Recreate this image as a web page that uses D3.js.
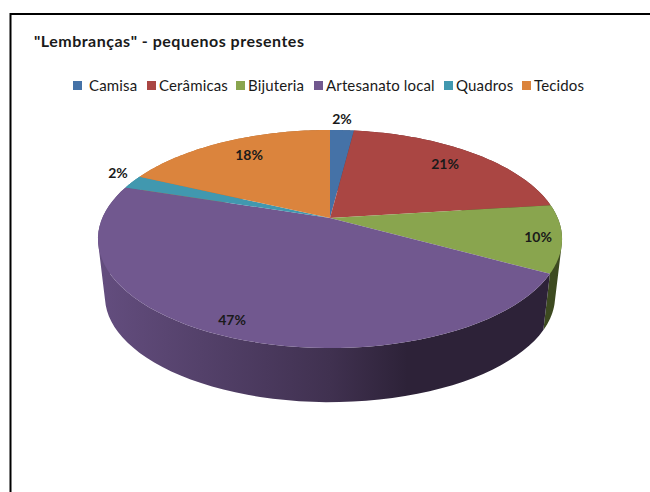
<!DOCTYPE html>
<html>
<head>
<meta charset="utf-8">
<script src="https://cdn.jsdelivr.net/npm/d3@7"></script>
<style>
    body { margin: 0; background: #fff; }
    text { font-family: Lato, "Noto Sans", sans-serif; fill: #1a1a1a; }
</style>
</head>
<body>
<div id="chart"></div>
<script>
const categories = ["Camisa", "Cerâmicas", "Bijuteria", "Artesanato local", "Quadros", "Tecidos"];
const values = [2, 21, 10, 47, 2, 18];
const colors = ["#4572a7", "#aa4643", "#89a54e", "#71588f", "#4198af", "#db843d"];
const darkColors = ["#2a4464", "#662a28", "#3d4a20", "#2d2238", "#275b69", "#834f25"];
const legendX = [73, 147, 236, 314, 444, 522];

const WIDTH = 650;
const HEIGHT = 492;
const CX = 330;
const CY = 218;
const R = 227.7;
const B = 105;
const K = 0.1927;
// lower rim of the pie, a bit narrower because of the perspective
const BOTTOM_SCALE = 0.97;
const BOTTOM_CY = 276;

const svg = d3.select("#chart").append("svg")
    .attr("width", WIDTH)
    .attr("height", HEIGHT);

// chart frame, runs past the window on the right and at the bottom
svg.append("rect")
    .attr("x", 10.5)
    .attr("y", 14)
    .attr("width", 700)
    .attr("height", 600)
    .attr("fill", "#fff")
    .attr("stroke", "#000")
    .attr("stroke-width", 2);

svg.append("text")
    .attr("x", 34)
    .attr("y", 47)
    .attr("font-size", 16)
    .attr("letter-spacing", 0.5)
    .attr("font-weight", 700)
    .text('"Lembranças" - pequenos presentes');

const legend = svg.append("g").selectAll("g")
    .data(categories)
    .enter()
    .append("g")
    .attr("transform", (d, i) => "translate(" + legendX[i] + ",81)");

legend.append("rect")
    .attr("width", 9)
    .attr("height", 9)
    .attr("fill", (d, i) => colors[i]);

legend.append("text")
    .attr("x", (d, i) => i == 0 ? 16 : 12)
    .attr("y", 10)
    .attr("font-size", 15)
    .attr("letter-spacing", 0.15)
    .text(d => d);

const arcs = d3.pie().sort(null)(values);

// angle is clockwise from the top, same as d3.pie
function topPoint(a) {
    let x = Math.sin(a), y = -Math.cos(a);
    let w = 1 - K * y;
    return [CX + R * x / w, CY + B * y / w];
}

function bottomPoint(a) {
    let x = Math.sin(a), y = -Math.cos(a);
    let w = 1 - K * y;
    return [CX + BOTTOM_SCALE * R * x / w, BOTTOM_CY + BOTTOM_SCALE * B * y / w];
}

function rim(d, fn) {
    return d3.range(0, 61).map(i => fn(d.startAngle + (d.endAngle - d.startAngle) * i / 60));
}

const line = d3.line();

// the wall as small quads, all turned the same way so the silhouette fills in
function wallPath(d) {
    let t = rim(d, topPoint), b = rim(d, bottomPoint);
    let path = "";
    for (let i = 0; i < 60; i++) {
        let quad = [t[i], t[i + 1], b[i + 1], b[i]];
        if (d3.polygonArea(quad) < 0) quad.reverse();
        path += line(quad) + "Z";
    }
    return path;
}

// dark wall gradient per slice, lighter at the left and dark at the right
const defs = svg.append("defs");
const grads = defs.selectAll("linearGradient")
    .data(arcs)
    .enter()
    .append("linearGradient")
    .attr("id", (d, i) => "wall" + i)
    .attr("gradientUnits", "userSpaceOnUse")
    .attr("x1", CX - R)
    .attr("x2", CX + R)
    .attr("y1", 0)
    .attr("y2", 0);
grads.append("stop").attr("offset", "0%").attr("stop-color", (d, i) => d3.interpolateRgb(colors[i], darkColors[i])(0.2));
grads.append("stop").attr("offset", "50%").attr("stop-color", (d, i) => d3.interpolateRgb(colors[i], darkColors[i])(0.72));
grads.append("stop").attr("offset", "67%").attr("stop-color", (d, i) => darkColors[i]);
grads.append("stop").attr("offset", "100%").attr("stop-color", (d, i) => darkColors[i]);

svg.append("g").selectAll("path")
    .data(arcs)
    .enter()
    .append("path")
    .attr("d", wallPath)
    .attr("fill", (d, i) => "url(#wall" + i + ")");

svg.append("g").selectAll("path")
    .data(arcs)
    .enter()
    .append("path")
    .attr("d", d => line([[CX, CY]].concat(rim(d, topPoint))) + "Z")
    .attr("fill", (d, i) => colors[i]);

const labelX = [342, 445, 538, 232, 118, 249];
const labelY = [124, 169, 242, 325, 178, 160];

svg.append("g").selectAll("text")
    .data(values)
    .enter()
    .append("text")
    .attr("x", (d, i) => labelX[i])
    .attr("y", (d, i) => labelY[i])
    .attr("text-anchor", "middle")
    .attr("font-size", 14)
    .attr("font-weight", 700)
    .text(d => d + "%");
</script>
</body>
</html>
